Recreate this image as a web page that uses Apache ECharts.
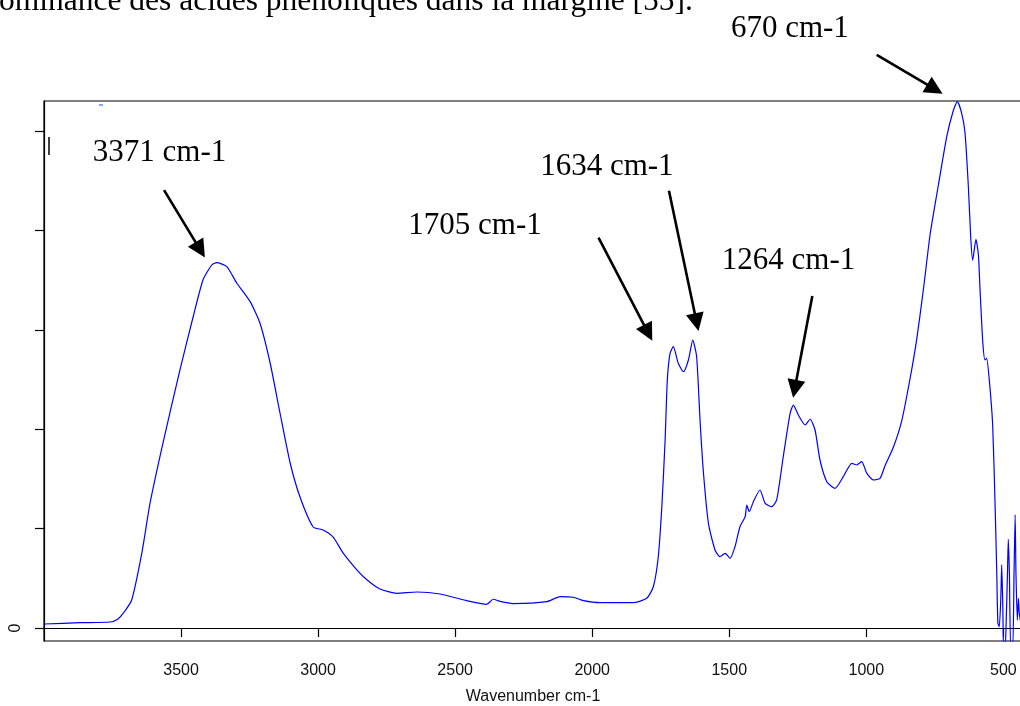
<!DOCTYPE html>
<html>
<head>
<meta charset="utf-8">
<script src="https://cdn.jsdelivr.net/npm/echarts@6/dist/echarts.min.js"></script>
<style>
	html, body { margin: 0; padding: 0; background: #fff; }
	#main { width: 1020px; height: 706px; }
</style>
</head>
<body>
<div id="main"></div>
<script>
// spectre IR : nombre d'onde (cm-1) et absorbance
var wavenumber = [
	4000, 3868, 3759, 3730, 3710, 3680, 3643, 3613, 3566, 3504,
	3456, 3420, 3388, 3370, 3333, 3297, 3248, 3212, 3175, 3139,
	3102, 3066, 3018, 2982, 2945, 2909, 2858, 2821, 2774, 2713,
	2640, 2555, 2458, 2385, 2361, 2336, 2289, 2166, 2117, 2069,
	2032, 1971, 1850, 1801, 1777, 1759, 1746, 1734, 1726, 1716,
	1704, 1686, 1667, 1649, 1633, 1619, 1606, 1594, 1576, 1552,
	1534, 1515, 1497, 1479, 1461, 1442, 1436, 1427, 1412, 1388,
	1369, 1345, 1327, 1303, 1278, 1266, 1248, 1223, 1205, 1187,
	1169, 1144, 1114, 1084, 1053, 1035, 1017, 998, 974, 950,
	932, 901, 871, 840, 816, 792, 767, 737, 706, 682,
	668, 652, 640, 628, 619, 612, 600, 591, 585, 575,
	567, 561, 551, 539, 530, 524, 520, 515, 509.5, 506,
	502, 499, 494, 490, 485, 482, 478, 473, 466, 461,
	457, 454, 449, 445, 442, 435
];
var absorbance = [
	0.040, 0.053, 0.060, 0.091, 0.151, 0.282, 0.755, 1.258, 1.861, 2.596,
	3.129, 3.501, 3.652, 3.675, 3.635, 3.471, 3.283, 3.066, 2.666, 2.163,
	1.660, 1.318, 1.016, 0.986, 0.915, 0.755, 0.583, 0.483, 0.392, 0.349,
	0.362, 0.342, 0.275, 0.238, 0.289, 0.267, 0.246, 0.265, 0.315, 0.309,
	0.275, 0.255, 0.255, 0.299, 0.415, 0.717, 1.220, 1.891, 2.495, 2.763,
	2.830, 2.663, 2.578, 2.696, 2.897, 2.729, 2.059, 1.556, 1.053, 0.785,
	0.717, 0.751, 0.701, 0.818, 1.019, 1.120, 1.237, 1.170, 1.271, 1.388,
	1.254, 1.220, 1.288, 1.723, 2.160, 2.243, 2.143, 2.042, 2.100, 1.992,
	1.690, 1.472, 1.405, 1.522, 1.657, 1.640, 1.673, 1.556, 1.489, 1.506,
	1.630, 1.821, 2.082, 2.515, 2.907, 3.400, 3.964, 4.457, 4.950, 5.211,
	5.295, 5.178, 4.985, 4.457, 3.928, 3.699, 3.910, 3.752, 3.400, 2.872,
	2.696, 2.713, 2.485, 2.042, 1.220, 0.550, 0.047, 0.013, 0.282, 0.634,
	0.214, -0.221, -0.221, 0.030, 0.550, 0.892, 0.550, -0.221, -0.221, 0.550,
	1.137, 0.550, 0.080, 0.299, 0.151, 0.030
];

var xTicks = [500, 1000, 1500, 2000, 2500, 3000, 3500];
var yTicks = [0, 1, 2, 3, 4, 5];
var yLabels = [0];

// annotations des pics
var peakLabels = ['3371 cm-1', '1705 cm-1', '1634 cm-1', '1264 cm-1', '670 cm-1'];
var labelAt = [[3822, 4.779], [2671, 4.041], [2190, 4.641], [1527, 3.694], [1494, 6.028]];
var arrowFrom = [[3562, 4.406], [1977, 3.927], [1720, 4.400], [1197, 3.340], [962, 5.765]];
var arrowTo = [[3430, 3.804], [1796, 2.969], [1619, 3.076], [1261, 2.406], [750, 5.421]];

var chart = echarts.init(document.getElementById('main'), null, { renderer: 'canvas' });

var spectrum = wavenumber.map(function (w, i) { return [w, absorbance[i]]; });
var labelData = peakLabels.map(function (t, i) {
	return { value: labelAt[i], label: { formatter: t } };
});
var arrowData = arrowFrom.map(function (p, i) {
	return { coords: [p, arrowTo[i]] };
});

var sansFont = '"Liberation Sans", Arial, sans-serif';
var serifFont = '"Liberation Serif", "Times New Roman", serif';

var option = {
	animation: false,
	backgroundColor: '#fff',
	grid: {
		left: 44, right: -2, top: 101, bottom: 65,
		show: true, borderColor: '#000', borderWidth: 1.2,
		outerBoundsMode: 'none'
	},
	xAxis: {
		type: 'value', inverse: true, min: 432, max: 4000,
		name: 'Wavenumber cm-1', nameLocation: 'middle', nameGap: 48,
		nameTextStyle: { fontFamily: sansFont, fontSize: 16, color: '#111' },
		axisLine: { show: true, lineStyle: { color: '#000', width: 1.2 } },
		axisTick: { show: true, length: 9, customValues: xTicks, lineStyle: { color: '#000', width: 1.2 } },
		axisLabel: {
			customValues: xTicks, margin: 22, fontFamily: sansFont, fontSize: 16, color: '#111',
			formatter: function (v) { return String(v); }
		},
		splitLine: { show: false }
	},
	yAxis: {
		type: 'value', min: -0.131, max: 5.302,
		axisLine: { show: true, lineStyle: { color: '#000', width: 1.2 } },
		axisTick: { show: true, length: 9, customValues: yTicks, lineStyle: { color: '#000', width: 1.2 } },
		axisLabel: {
			customValues: yLabels, rotate: 90, margin: 20, fontFamily: sansFont, fontSize: 16, color: '#111',
			formatter: function (v) { return String(v); }
		},
		splitLine: { show: false }
	},
	series: [
		{
			type: 'line',
			data: spectrum,
			showSymbol: false,
			smooth: 0.2,
			clip: true,
			lineStyle: { color: '#0000ff', width: 1.2 }
		},
		{
			type: 'lines',
			coordinateSystem: 'cartesian2d',
			clip: false,
			symbol: ['none', 'triangle'],
			symbolSize: [13, 18],
			lineStyle: { color: '#000', width: 2.6, opacity: 1, curveness: 0 },
			itemStyle: { color: '#000' },
			data: arrowData
		},
		{
			type: 'scatter',
			clip: false,
			symbolSize: 0,
			silent: true,
			itemStyle: { opacity: 1 },
			label: {
				show: true, position: [0, 0], align: 'left', verticalAlign: 'middle',
				fontFamily: serifFont, fontSize: 31, color: '#000', opacity: 1
			},
			data: labelData
		}
	],
	graphic: [
		{
			type: 'text', left: -1, top: 1.4 - 15.75,
			style: {
				text: 'ominance des acides phénoliques dans la margine [55].',
				font: '31.5px "Liberation Serif", serif', fill: '#000'
			}
		},
		{ type: 'line', shape: { x1: 49, y1: 137, x2: 49, y2: 155 }, style: { stroke: '#000', lineWidth: 1.5 } },
		{ type: 'line', shape: { x1: 99, y1: 105, x2: 103, y2: 105 }, style: { stroke: '#3a6cff', lineWidth: 1.2 } }
	]
};

chart.setOption(option);
</script>
</body>
</html>
